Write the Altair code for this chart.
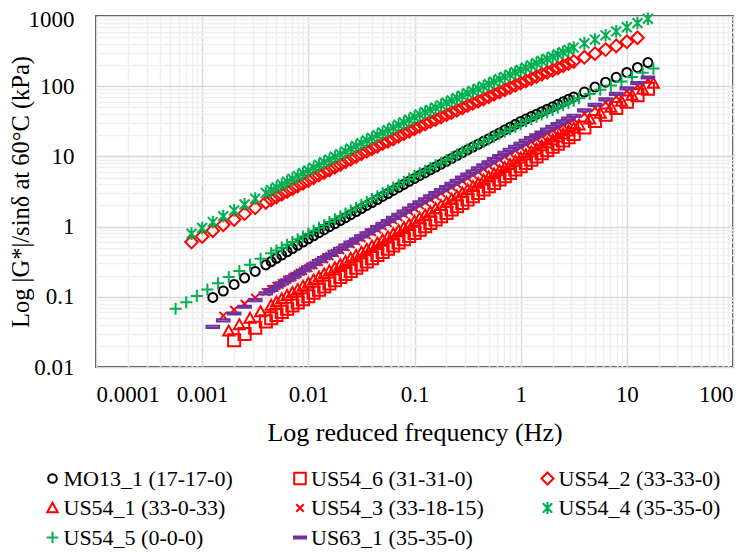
import altair as alt
import pandas as pd

# ---------------- data ----------------
SERIES = ["MO13_1 (17-17-0)", "US54_6 (31-31-0)", "US54_2 (33-33-0)",
          "US54_1 (33-0-33)", "US54_3 (33-18-15)", "US54_4 (35-35-0)",
          "US54_5 (0-0-0)", "US63_1 (35-35-0)"]
COLORS = ["#000000", "#FF0000", "#FF0000", "#FF0000", "#FF0000",
          "#00B050", "#00B050", "#7030A0"]

mo13_f = [0.00126, 0.00158, 0.002, 0.00251, 0.00316, 0.00398, 0.00501, 0.00631, 0.00794,
          0.01, 0.0126, 0.0158, 0.02, 0.0251, 0.0316, 0.0398, 0.0501, 0.0631, 0.0794,
          0.1, 0.126, 0.158, 0.2, 0.251, 0.316, 0.398, 0.501, 0.631, 0.794,
          1.0, 1.26, 1.58, 2.0, 2.51, 3.16, 3.98, 5.01, 6.31, 7.94, 10.0, 12.6, 15.8]
mo13_g = [0.098, 0.121, 0.150, 0.186, 0.230, 0.285, 0.353, 0.438, 0.542,
          0.671, 0.818, 0.998, 1.22, 1.48, 1.81, 2.20, 2.69, 3.27, 3.99,
          4.86, 5.86, 7.06, 8.51, 10.3, 12.4, 14.9, 17.9, 21.6, 26.1,
          31.4, 36.9, 43.4, 50.9, 59.8, 70.3, 82.6, 97.1, 114, 134, 157, 185, 217]

us546_f = [0.002, 0.00251, 0.00316, 0.00398, 0.00501, 0.00631, 0.00794,
           0.01, 0.0126, 0.0158, 0.02, 0.0251, 0.0316, 0.0398, 0.0501, 0.0631, 0.0794,
           0.1, 0.126, 0.158, 0.2, 0.251, 0.316, 0.398, 0.501, 0.631, 0.794,
           1.0, 1.26, 1.58, 2.0, 2.51, 3.16, 3.98, 5.01, 6.31, 7.94, 10.0, 12.6, 15.8]
us546_g = [0.0240, 0.0295, 0.0363, 0.0447, 0.0550, 0.0676, 0.0832,
           0.102, 0.126, 0.155, 0.191, 0.234, 0.288, 0.355, 0.437, 0.537, 0.661,
           0.813, 1.01, 1.26, 1.57, 1.95, 2.43, 3.02, 3.76, 4.68, 5.82,
           7.24, 8.95, 11.1, 13.7, 16.9, 20.9, 25.8, 31.9, 39.4, 48.8, 60.3, 74.5, 92.0]

us542_f = [0.000794, 0.001, 0.00126, 0.00158, 0.002, 0.00251, 0.00316, 0.00398, 0.00501,
           0.00631, 0.00794, 0.01, 0.0126, 0.0158, 0.02, 0.0251, 0.0316, 0.0398, 0.0501,
           0.0631, 0.0794, 0.1, 0.126, 0.158, 0.2, 0.251, 0.316, 0.398, 0.501, 0.631,
           0.794, 1.0, 1.26, 1.58, 2.0, 2.51, 3.16, 3.98, 5.01, 6.31, 7.94, 10.0, 12.6]
us542_g = [0.603, 0.721, 0.873, 1.06, 1.26, 1.53, 1.85, 2.21, 2.65,
           3.17, 3.79, 4.53, 5.42, 6.41, 7.67, 9.08, 10.9, 12.9, 15.2,
           17.7, 21.0, 24.8, 29.0, 33.6, 39.3, 45.3, 53.0, 61.2, 70.8, 82.8,
           95.7, 111, 128, 148, 169, 195, 225, 258, 291, 332, 375, 429, 490]

us541_f = [0.00178, 0.00224, 0.00282, 0.00355, 0.00447, 0.00562, 0.00708, 0.00891,
           0.0112, 0.0141, 0.0178, 0.0224, 0.0282, 0.0355, 0.0447, 0.0562, 0.0708, 0.0891,
           0.112, 0.141, 0.178, 0.224, 0.282, 0.355, 0.447, 0.562, 0.708, 0.891,
           1.12, 1.41, 1.78, 2.24, 2.82, 3.55, 4.47, 5.62, 7.08, 8.91, 11.2, 14.1, 17.8]
us541_g = [0.0324, 0.0400, 0.0494, 0.0611, 0.0755, 0.0933, 0.115, 0.141,
           0.173, 0.212, 0.259, 0.318, 0.389, 0.476, 0.583, 0.714, 0.875, 1.07,
           1.32, 1.62, 2.00, 2.45, 3.02, 3.72, 4.57, 5.62, 6.92, 8.51,
           10.5, 12.7, 15.5, 18.8, 22.9, 27.9, 33.9, 41.2, 50.1, 61.0, 74.1, 90.2, 110]

us543_f = [0.00158, 0.002, 0.00251, 0.00316, 0.00398, 0.00501, 0.00631, 0.00794,
           0.01, 0.0126, 0.0158, 0.02, 0.0251, 0.0316, 0.0398, 0.0501, 0.0631, 0.0794,
           0.1, 0.126, 0.158, 0.2, 0.251, 0.316, 0.398, 0.501, 0.631, 0.794,
           1.0, 1.26, 1.58, 2.0, 2.51, 3.16, 3.98, 5.01, 6.31, 7.94, 10.0, 12.6, 15.8]
us543_g = [0.0537, 0.0653, 0.0794, 0.0966, 0.117, 0.143, 0.174, 0.211,
           0.257, 0.313, 0.380, 0.462, 0.562, 0.684, 0.832, 1.01, 1.23, 1.50,
           1.82, 2.22, 2.72, 3.32, 4.06, 4.95, 6.05, 7.40, 9.04, 11.0,
           13.5, 16.2, 19.5, 23.4, 28.2, 33.9, 40.7, 49.0, 58.9, 70.8, 85.1, 102, 123]

us544_f = [0.000794, 0.001, 0.00126, 0.00158, 0.002, 0.00251, 0.00316, 0.00398, 0.00501,
           0.00631, 0.00794, 0.01, 0.0126, 0.0158, 0.02, 0.0251, 0.0316, 0.0398, 0.0501,
           0.0631, 0.0794, 0.1, 0.126, 0.158, 0.2, 0.251, 0.316, 0.398, 0.501, 0.631,
           0.794, 1.0, 1.26, 1.58, 2.0, 2.51, 3.16, 3.98, 5.01, 6.31, 7.94, 10.0, 12.6, 15.8]
us544_g = [0.794, 0.955, 1.16, 1.41, 1.70, 2.07, 2.51, 3.02, 3.63,
           4.37, 5.25, 6.31, 7.59, 9.02, 10.8, 12.9, 15.5, 18.4, 21.9,
           25.7, 30.5, 36.3, 42.7, 49.5, 58.2, 67.6, 79.4, 92.3, 107, 126,
           146, 170, 197, 229, 263, 305, 355, 407, 462, 531, 603, 692, 794, 912]

us545_f = [0.000562, 0.000708, 0.000891, 0.00112, 0.00141, 0.00178, 0.00224, 0.00282,
           0.00355, 0.00447, 0.00562, 0.00708, 0.00891, 0.0112, 0.0141, 0.0178, 0.0224,
           0.0282, 0.0355, 0.0447, 0.0562, 0.0708, 0.0891, 0.112, 0.141, 0.178, 0.224,
           0.282, 0.355, 0.447, 0.562, 0.708, 0.891, 1.12, 1.41, 1.78, 2.24, 2.82,
           3.55, 4.47, 5.62, 7.08, 8.91, 11.2, 14.1, 17.8]
us545_g = [0.0676, 0.0836, 0.103, 0.127, 0.156, 0.191, 0.233, 0.286,
           0.347, 0.417, 0.501, 0.603, 0.724, 0.873, 1.05, 1.27, 1.54,
           1.86, 2.24, 2.71, 3.27, 3.95, 4.78, 5.73, 6.82, 8.13, 9.68,
           11.5, 13.7, 16.1, 19.1, 22.5, 26.5, 31.6, 36.7, 42.7, 49.5, 57.5,
           67.6, 77.6, 89.1, 102, 117, 135, 155, 178]

us631_f = [0.00126, 0.00158, 0.002, 0.00251, 0.00316, 0.00398, 0.00501, 0.00631, 0.00794,
           0.01, 0.0126, 0.0158, 0.02, 0.0251, 0.0316, 0.0398, 0.0501, 0.0631, 0.0794,
           0.1, 0.126, 0.158, 0.2, 0.251, 0.316, 0.398, 0.501, 0.631, 0.794,
           1.0, 1.26, 1.58, 2.0, 2.51, 3.16, 3.98, 5.01, 6.31, 7.94, 10.0, 12.6, 15.8]
us631_g = [0.0372, 0.0463, 0.0578, 0.0721, 0.0899, 0.112, 0.139, 0.172, 0.213,
           0.263, 0.322, 0.394, 0.483, 0.592, 0.724, 0.887, 1.09, 1.33, 1.63,
           2.00, 2.44, 2.99, 3.66, 4.49, 5.50, 6.73, 8.24, 10.1, 12.4,
           15.1, 18.2, 21.9, 26.3, 31.6, 37.8, 45.3, 54.2, 64.9, 77.6, 92.9, 111, 133]

# extra points where the temperature sweeps overlap (dense middle of each curve)
mid_f_a = [0.00447, 0.00562, 0.00708, 0.00891, 0.0112, 0.0141, 0.0178, 0.0224, 0.0282,
           0.0355, 0.0447, 0.0562, 0.0708, 0.0891, 0.112, 0.141, 0.178, 0.224, 0.282,
           0.355, 0.447, 0.562, 0.708, 0.891, 1.12, 1.41, 1.78, 2.24, 2.82]
mid_f_b = [0.00501, 0.00631, 0.00794, 0.01, 0.0126, 0.0158, 0.02, 0.0251, 0.0316,
           0.0398, 0.0501, 0.0631, 0.0794, 0.1, 0.126, 0.158, 0.2, 0.251, 0.316,
           0.398, 0.501, 0.631, 0.794, 1.0, 1.26, 1.58, 2.0, 2.51, 3.16]
mo13_g_mid = [0.317, 0.393, 0.486, 0.603, 0.741, 0.904, 1.10, 1.34, 1.64, 2.00, 2.43, 2.96,
              3.61, 4.41, 5.35, 6.44, 7.76, 9.35, 11.3, 13.6, 16.4, 19.7, 23.8, 28.6, 34.0,
              40.0, 47.0, 55.2, 64.9]
us546_g_mid = [0.0495, 0.0610, 0.0750, 0.0923, 0.114, 0.140, 0.172, 0.211, 0.260, 0.320,
               0.394, 0.484, 0.596, 0.733, 0.906, 1.13, 1.41, 1.75, 2.18, 2.71, 3.37, 4.20,
               5.22, 6.50, 8.05, 9.95, 12.3, 15.2, 18.8]
us542_g_mid = [2.42, 2.90, 3.47, 4.15, 4.95, 5.90, 7.01, 8.36, 9.93, 11.8, 14.0, 16.4, 19.3,
               22.9, 26.9, 31.3, 36.3, 42.2, 49.0, 57.0, 65.9, 76.6, 89.1, 103, 119, 137,
               158, 182, 210]
us541_g_mid = [0.0839, 0.104, 0.127, 0.156, 0.191, 0.234, 0.287, 0.352, 0.431, 0.527, 0.646,
               0.791, 0.968, 1.19, 1.46, 1.80, 2.21, 2.72, 3.35, 4.12, 5.07, 6.24, 7.67,
               9.44, 11.6, 14.1, 17.1, 20.8, 25.3]
us543_g_mid = [0.129, 0.157, 0.191, 0.233, 0.283, 0.344, 0.419, 0.509, 0.619, 0.753, 0.916,
               1.12, 1.36, 1.65, 2.01, 2.46, 3.01, 3.67, 4.49, 5.48, 6.70, 8.18, 10.0, 12.2,
               14.8, 17.8, 21.4, 25.7, 30.9]
us544_g_mid = [3.31, 3.98, 4.79, 5.75, 6.92, 8.28, 9.89, 11.8, 14.1, 16.9, 20.1, 23.7, 28.1,
               33.3, 39.4, 46.0, 53.7, 62.8, 73.3, 85.7, 99.5, 116, 136, 158, 183, 213, 245,
               284, 330]
us545_g_mid = [0.457, 0.550, 0.661, 0.794, 0.959, 1.16, 1.40, 1.69, 2.04, 2.47, 2.98, 3.60,
               4.34, 5.24, 6.25, 7.45, 8.87, 10.6, 12.6, 14.9, 17.5, 20.7, 24.4, 29.0, 34.1,
               39.6, 46.0, 53.5, 62.4]
us631_g_mid = [0.125, 0.155, 0.191, 0.237, 0.291, 0.356, 0.437, 0.535, 0.655, 0.802, 0.982,
               1.20, 1.47, 1.80, 2.21, 2.70, 3.31, 4.06, 4.97, 6.08, 7.45, 9.12, 11.2, 13.7,
               16.6, 20.0, 24.0, 28.8, 34.6]

FREQS = [mo13_f + mid_f_a, us546_f + mid_f_a, us542_f + mid_f_a, us541_f + mid_f_b,
         us543_f + mid_f_a, us544_f + mid_f_a, us545_f + mid_f_b, us631_f + mid_f_a]
GVALS = [mo13_g + mo13_g_mid, us546_g + us546_g_mid, us542_g + us542_g_mid,
         us541_g + us541_g_mid, us543_g + us543_g_mid, us544_g + us544_g_mid,
         us545_g + us545_g_mid, us631_g + us631_g_mid]

# ---------------- styling ----------------
SHAPES = [
    "M-0.82,0A0.82,0.82 0 1,1 0.82,0A0.82,0.82 0 1,1 -0.82,0Z",   # circle
    "M-1.1,-1.1L1.1,-1.1L1.1,1.1L-1.1,1.1Z",                         # square
    "M0,-1.15L1.15,0L0,1.15L-1.15,0Z",                               # diamond
    "M0,-1L1,0.8L-1,0.8Z",                                           # triangle
    "M-0.7,-0.7L0.7,0.7M-0.7,0.7L0.7,-0.7",                          # x
    "M-0.9,-0.9L0.9,0.9M-0.9,0.9L0.9,-0.9M0,-1.15L0,1.15",           # asterisk
    "M-1.1,0L1.1,0M0,-1.1L0,1.1",                                    # plus
    "M-1.15,-0.2L1.15,-0.2L1.15,0.2L-1.15,0.2Z",                     # dash
]

rows = []
for name, fs, gs in zip(SERIES, FREQS, GVALS):
    for f, g in zip(fs, gs):
        rows.append({"series": name, "freq": f, "g": g})
df = pd.DataFrame(rows)

FONT = "Liberation Serif"

x_vals = [m * 10.0 ** k for k in range(-4, 2) for m in range(1, 10)] + [100.0]
y_vals = [m * 10.0 ** k for k in range(-2, 3) for m in range(1, 10)] + [1000.0]
major = "abs(log(datum.value)/LN10 - round(log(datum.value)/LN10)) < 0.001"
grid_col = {"condition": {"test": major, "value": "#d9d9d9"}, "value": "#efefef"}

chart = alt.Chart(df).mark_point(filled=False, strokeWidth=2, opacity=1, size=121).encode(
    x=alt.X("freq:Q", scale=alt.Scale(type="log", domain=[0.0001, 100], nice=False),
            axis=alt.Axis(title="Log reduced frequency (Hz)", values=x_vals,
                          format="~g", labelExpr=f"{major} ? datum.label : ''",
                          labelOverlap=False, ticks=False, domain=False,
                          gridColor=grid_col, gridWidth=1.5,
                          labelPadding=16, titleFontSize=26,
                          titleX=318.5, titleY=73, titleAnchor="middle",
                          titleBaseline="alphabetic", titleAlign="center")),
    y=alt.Y("g:Q", scale=alt.Scale(type="log", domain=[0.01, 1000], nice=False),
            axis=alt.Axis(title="Log |G*|/sinδ at 60°C (kPa)", values=y_vals,
                          format="~g", labelExpr=f"{major} ? datum.label : ''",
                          labelOverlap=False, ticks=False, domain=False,
                          labelOffset={"condition": {"test": "datum.value > 999", "value": 3},
                                       "value": 0},
                          gridColor=grid_col, gridWidth=1.5,
                          labelPadding=22, titleFontSize=24.5,
                          titleX=-63, titleY=175.5, titleAngle=270,
                          titleBaseline="bottom", titleAlign="center")),
    color=alt.Color("series:N", scale=alt.Scale(domain=SERIES, range=COLORS),
                    legend=alt.Legend(title=None, orient="none", legendX=-54.5, legendY=451.5,
                                      direction="horizontal", columns=3,
                                      symbolSize=110, symbolStrokeWidth=2,
                                      labelFont=FONT, labelFontSize=22, labelColor="#000000",
                                      columnPadding=52.5, rowPadding=7.5, labelOffset=0,
                                      gridAlign="all", labelLimit=300)),
    shape=alt.Shape("series:N", scale=alt.Scale(domain=SERIES, range=SHAPES)),
).properties(
    width=637, height=351,
    autosize=alt.AutoSizeParams(type="none"),
    padding={"left": 88, "top": 8, "right": 13, "bottom": 185},
).configure(
    background="white"
).configure_view(
    stroke="#000000", strokeWidth=1.5
).configure_axis(
    labelFont=FONT, labelFontSize=23, labelColor="#000000",
    titleFont=FONT, titleColor="#000000", titleFontWeight="normal",
)

chart.save("out.html", embed_options={"renderer": "svg", "actions": False})
